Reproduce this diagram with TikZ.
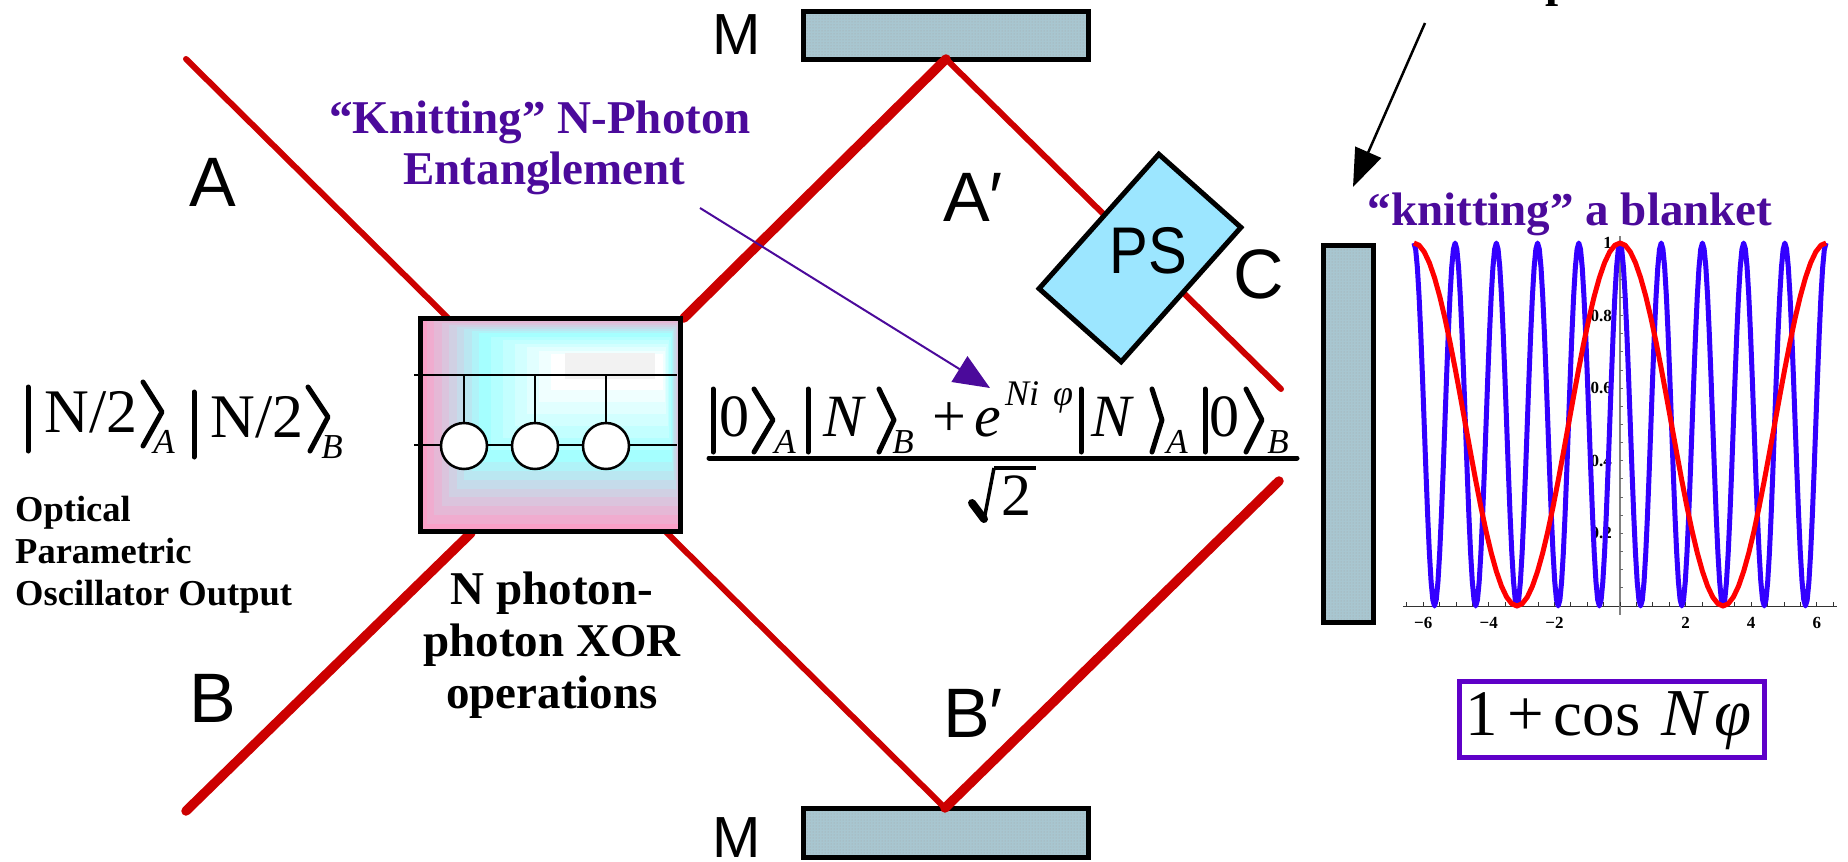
\documentclass[tikz,border=0pt]{standalone}
\usepackage{fontspec}
\setmainfont{Liberation Serif}
\newfontfamily\labelsans{Liberation Sans}
\newfontfamily\narrowsans[FakeStretch=0.88]{Liberation Sans}
\usetikzlibrary{arrows.meta, patterns}
\definecolor{beamred}{HTML}{CC0000}
\definecolor{knitpurple}{HTML}{4B0A9B}
\definecolor{boxpurple}{HTML}{5F00C8}
\definecolor{mirrorfill}{HTML}{A8C6D0}
\definecolor{psfill}{HTML}{9CE6FF}
\definecolor{xorpink}{HTML}{FBA0C8}
\definecolor{xorcyan}{HTML}{A5FFFF}
\definecolor{curveblue}{HTML}{3300FF}
\tikzset{
	beamthin/.style={line width=6pt, beamred, line cap=round},
	beamthick/.style={line width=9.5pt, beamred, line cap=round},
	mirror/.style={draw, line width=5pt, preaction={fill=mirrorfill}, pattern=dots, pattern color=black!35, inner sep=0pt},
	biglabel/.style={font=\labelsans\fontsize{70}{70}\selectfont, inner sep=0pt, anchor=base},
	midlabel/.style={font=\labelsans\fontsize{58}{58}\selectfont, inner sep=0pt, anchor=base},
	purpletext/.style={font=\bfseries\fontsize{47}{51}\selectfont, text=knitpurple, inner sep=0pt, align=center},
	blacktext/.style={font=\bfseries\fontsize{47}{52}\selectfont, inner sep=0pt, align=center},
	smalltext/.style={font=\bfseries\fontsize{36.5}{42}\selectfont, inner sep=0pt, align=left},
	mathbig/.style={font=\fontsize{60}{60}\selectfont, inner sep=0pt, anchor=base},
	mathital/.style={font=\itshape\fontsize{60}{60}\selectfont, inner sep=0pt, anchor=base},
	mathleft/.style={font=\fontsize{62}{62}\selectfont, inner sep=0pt, anchor=base},
	mathsub/.style={font=\itshape\fontsize{35}{35}\selectfont, inner sep=0pt, anchor=base},
	fringetext/.style={font=\fontsize{65}{65}\selectfont, inner sep=0pt, anchor=base},
	fringeital/.style={font=\itshape\fontsize{67}{67}\selectfont, inner sep=0pt, anchor=base},
	ketline/.style={line width=5pt, line cap=round, line join=round},
	wire/.style={line width=2.5pt},
	gate/.style={circle, draw, line width=2.5pt, fill=white, minimum size=46pt, inner sep=0pt},
	ticklabel/.style={font=\bfseries\fontsize{17}{17}\selectfont, inner sep=0pt},
}

\begin{document}
\begin{tikzpicture}[x=1pt, y=-1pt]
	\useasboundingbox (0,0) rectangle (1848,862);
	
	%Mirrors and screen
	\node (MirrorTop) at (945.5,35) [mirror, minimum width=285pt, minimum height=48pt]{};
	\node (MirrorBottom) at (945.5,832.5) [mirror, minimum width=285pt, minimum height=49pt]{};
	\node (Screen) at (1348,433.5) [mirror, minimum width=50pt, minimum height=377pt]{};
	
	%Beam end points
	\coordinate (AIn) at (186,59);
	\coordinate (BIn) at (186,811);
	\coordinate (TopHit) at (946,59);
	\coordinate (BottomHit) at (945,808);
	\coordinate (AOut) at (1281,389);
	\coordinate (BOut) at (1279,481);
	\coordinate (XorNW) at (448,318);
	\coordinate (XorSW) at (471,533);
	\coordinate (XorNE) at (684,318);
	\coordinate (XorSE) at (666,532);
	
	%Beams
	\draw[beamthin] (AIn) -- (XorNW);
	\draw[beamthick] (BIn) -- (XorSW);
	\draw[beamthick] (XorNE) -- (TopHit);
	\draw[beamthin] (XorSE) -- (BottomHit);
	\draw[beamthin] (TopHit) -- (AOut);
	\draw[beamthick] (BOut) -- (BottomHit);
	
	%Phase shifter
	\node (PhaseBox) at (1140,258) [draw, line width=5pt, fill=psfill, rotate=48.3, minimum width=180pt, minimum height=110pt]{};
	\node (PhaseLabel) at (1148,273) [midlabel, font=\narrowsans\fontsize{66}{66}\selectfont]{PS};
	
	%XOR box background, one ring at a time
	\foreach \t in {0,...,8}{
		\pgfmathsetmacro{\mixval}{100-\t*12.5}
		\colorlet{ringcolor}{xorpink!\mixval!xorcyan}
		\fill[ringcolor] ({419+\t*7.5},{317+\t*2}) rectangle ({682-\t*1.3},{533-\t*8.9});
	}
	\foreach \t in {1,...,6}{
		\pgfmathsetmacro{\mixval}{100-\t*16.6}
		\colorlet{ringcolor}{xorcyan!\mixval!white}
		\fill[ringcolor] ({479+\t*12},{333+\t*3.5}) rectangle ({672-\t*1.5},{462-\t*12});
	}
	\fill[black!5] (565,353) rectangle (655,379);
	\node (XorBox) at (550.5,425) [draw, line width=5pt, minimum width=260pt, minimum height=213pt]{};
	
	%XOR gates
	\coordinate (WireTopL) at (414,375);
	\coordinate (WireTopR) at (677,375);
	\coordinate (WireLowL) at (414,445);
	\coordinate (WireLowR) at (677,445);
	\draw[wire] (WireTopL) -- (WireTopR);
	\draw[wire] (WireLowL) -- (WireLowR);
	\foreach \n/\px in {1/464,2/535,3/606}{
		\node (Gate\n) at (\px,446) [gate]{};
		\coordinate (Stem\n) at (\px,375);
		\draw[wire] (Stem\n) -- (Gate\n.north);
	}
	
	%Beam labels
	\node (LabelA) at (213,206) [biglabel]{A};
	\node (LabelB) at (213,722) [biglabel]{B};
	\node (LabelAp) at (973,221) [biglabel]{A′};
	\node (LabelBp) at (973,737) [biglabel]{B′};
	\node (LabelC) at (1259,298) [biglabel]{C};
	\node (LabelMt) at (737,54) [midlabel]{M};
	\node (LabelMb) at (737,857) [midlabel]{M};
	
	%Texts
	\node (KnitEnt) at (540,148) [purpletext]{“Knitting” N-Photon\\\hspace*{9pt}Entanglement};
	\node (KnitBlanket) at (1570,225) [purpletext, anchor=base]{“knitting” a blanket};
	\node (XorText) at (552,645) [blacktext]{N photon-\\photon XOR\\operations};
	\node (OpoText) at (15,555) [smalltext, anchor=west]{Optical\\Parametric\\Oscillator Output};
	\node (TopLetter) at (1545,-4) [blacktext, anchor=base west]{p};
	
	%Arrows
	\coordinate (BlackStart) at (1425,23);
	\coordinate (BlackTip) at (1353,187);
	\draw[-{Triangle[length=38pt,width=28pt]}, line width=2.5pt] (BlackStart) -- (BlackTip);
	\coordinate (PurpleStart) at (700,208);
	\coordinate (PurpleTip) at (990,388);
	\draw[-{Triangle[length=36pt,width=30pt]}, knitpurple, line width=2pt] (PurpleStart) -- (PurpleTip);
	
	%Input state
	\node (StateA) at (91,432) [mathleft]{N/2};
	\node (SubA) at (164,453) [mathsub]{A};
	\node (StateB) at (257,437) [mathleft]{N/2};
	\node (SubB) at (332,458) [mathsub]{B};
	\draw[ketline] (28,387) -- (28,451);
	\draw[ketline] (143,382) -- (162,412) -- (143,446);
	\draw[ketline] (194,392) -- (194,457);
	\draw[ketline] (308,387) -- (328,417) -- (310,451);
	
	%Output state
	\foreach \barx/\angx/\tipx in {713/754/773, 808/879/894, 1081/1152/1162, 1205/1246/1262}{
		\draw[ketline] (\barx,389) -- (\barx,452);
		\draw[ketline] (\angx,389) -- (\tipx,420) -- (\angx,452);
	}
	\node (NumZeroA) at (734,436) [mathbig]{0};
	\node (SubNumA) at (785,453) [mathsub]{A};
	\node (NumNB) at (844,436) [mathital]{N};
	\node (SubNumB) at (903,453) [mathsub]{B};
	\node (NumPlus) at (949,436) [mathbig]{+};
	\node (NumE) at (988,436) [mathital]{e};
	\node (NumExp) at (1039,405) [mathsub, font=\itshape\fontsize{36}{36}\selectfont]{Ni\hspace{14pt}φ};
	\node (NumNA) at (1111,436) [mathital]{N};
	\node (SubNumC) at (1177,453) [mathsub]{A};
	\node (NumZeroB) at (1224,436) [mathbig]{0};
	\node (SubNumD) at (1278,453) [mathsub]{B};
	\draw[line width=5pt, line cap=round] (709,458) -- (1297,458);
	\node (DenTwo) at (1016,515) [mathbig]{2};
	\draw[line width=3.5pt] (994,468) -- (1036,468);
	\draw[line width=3.5pt, line join=round] (984,520) -- (994,468);
	\draw[line width=8pt, line cap=round] (972,503) -- (984,519);
	
	%Plot axes
	\draw[black!80, line width=1pt] (1403,606) -- (1837,606);
	\draw[black!50, line width=1.5pt] (1620,236) -- (1620,615);
	\foreach \k in {-13,...,13}{
		\coordinate (XTick\k) at ({1620+\k*16.4},606);
		\draw[black!80, line width=1pt] (XTick\k) -- ++(0,-4);
	}
	\foreach \k in {1,...,20}{
		\coordinate (YTick\k) at (1620,{606-\k*18.15});
		\draw[black!60, line width=1pt] (YTick\k) -- ++(3,0);
	}
	\foreach \v/\lab in {-6/−6,-4/−4,-2/−2,2/2,4/4,6/6}{
		\node (XLab\v) at ({1620+\v*32.8},623) [ticklabel]{\lab};
	}
	\foreach \v/\lab in {1/1,.8/0.8,.6/0.6,.4/0.4,.2/0.2}{
		\node (YLab\lab) at (1612,{606-\v*363}) [ticklabel, anchor=east]{\lab};
	}
	
	%Curves
	\draw[curveblue, line width=5pt, line join=round] plot[domain=-6.283:6.283, samples=241] ({1620+\x*32.8},{606-363*(1+cos(5*\x r))/2});
	\draw[red, line width=5pt, line join=round] plot[domain=-6.283:6.283, samples=81] ({1620+\x*32.8},{606-363*(1+cos(\x r))/2});
	
	%Fringe formula
	\node (Fringe) at (1612,719.5) [draw=boxpurple, line width=5pt, minimum width=305pt, minimum height=76pt]{};
	\node (FringeOne) at (1482,735) [fringetext]{1};
	\node (FringePlus) at (1526,735) [fringetext]{+};
	\node (FringeCos) at (1597,735) [fringetext]{cos};
	\node (FringeN) at (1684,735) [fringeital]{N};
	\node (FringePhi) at (1733,735) [fringeital]{φ};
	
\end{tikzpicture}
\end{document}
